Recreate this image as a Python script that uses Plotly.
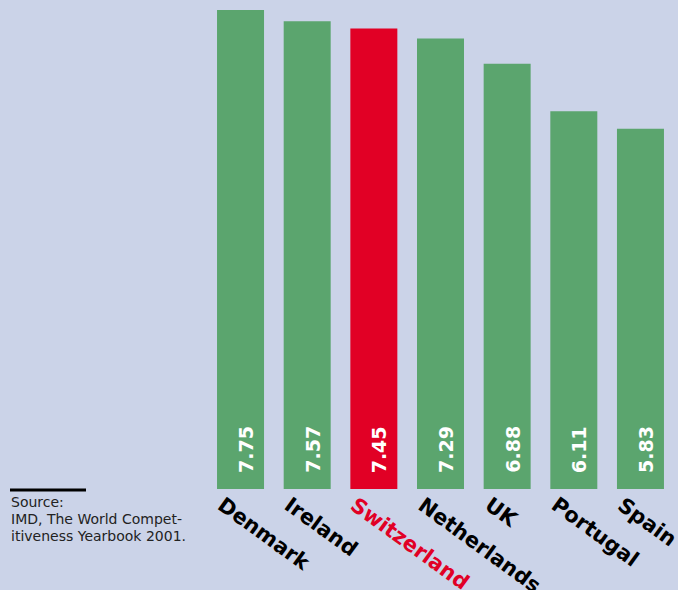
import plotly.graph_objects as go

countries = ["Denmark", "Ireland", "Switzerland", "Netherlands", "UK", "Portugal", "Spain"]
values = [7.75, 7.57, 7.45, 7.29, 6.88, 6.11, 5.83]
value_labels = ["7.75", "7.57", "7.45", "7.29", "6.88", "6.11", "5.83"]
highlight = "Switzerland"
source_lines = ["Source:", "IMD, The World Compet-", "itiveness Yearbook 2001."]

W, H = 678, 590
BG = "#CBD3E8"
GREEN = "#5BA56E"
RED = "#E10025"

colors = [RED if c == highlight else GREEN for c in countries]

fig = go.Figure()
fig.add_trace(go.Bar(x=countries, y=values, marker=dict(color=colors, line=dict(width=0)),
                     hoverinfo="skip"))

ann = []
for c, lab in zip(countries, value_labels):
    ann.append(dict(x=c, y=0, xref="x", yref="y", text="<b>%s</b>" % lab, textangle=-90,
                    showarrow=False, xanchor="center", yanchor="bottom",
                    xshift=5, yshift=14,
                    font=dict(family="DejaVu Sans", size=19, color="white")))
for c in countries:
    col = RED if c == highlight else "black"
    ann.append(dict(x=c, y=0, xref="x", yref="y", text="<b>%s</b>" % c, textangle=36,
                    showarrow=False, xanchor="left", yanchor="top",
                    xshift=-30, yshift=-1,
                    font=dict(family="DejaVu Sans", size=21, color=col)))

for i, line in enumerate(source_lines):
    ann.append(dict(x=9 / W, y=(590 - 492 - i * 16.8) / H, xref="paper", yref="paper",
                    text=line, showarrow=False, align="left",
                    xanchor="left", yanchor="top",
                    font=dict(family="DejaVu Sans", size=14, color="#222222")))

fig.update_layout(
    width=W, height=H,
    margin=dict(l=0, r=0, t=0, b=0),
    paper_bgcolor=BG, plot_bgcolor=BG,
    bargap=0.295,
    showlegend=False,
    xaxis=dict(domain=[207.2 / W, 673.8 / W], range=[-0.5, 6.5], showticklabels=False,
               showgrid=False, zeroline=False, showline=False, fixedrange=True),
    yaxis=dict(domain=[(590 - 489) / H, (590 - 10) / H], range=[0, 7.75],
               showticklabels=False, showgrid=False, zeroline=False, showline=False,
               fixedrange=True),
    annotations=ann,
    shapes=[dict(type="line", xref="paper", yref="paper",
                 x0=10 / W, x1=86 / W, y0=(590 - 490) / H, y1=(590 - 490) / H,
                 line=dict(color="black", width=3))],
)

fig.write_html("out.html")
